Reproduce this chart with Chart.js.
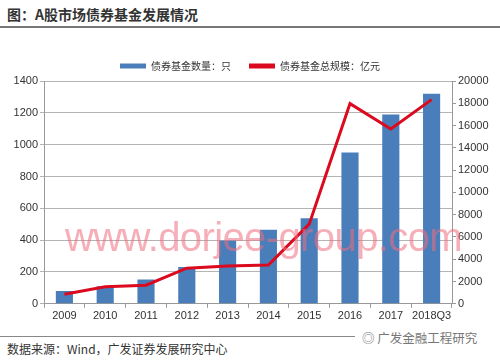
<!DOCTYPE html>
<html>
<head>
<meta charset="utf-8">
<script src="https://cdn.jsdelivr.net/npm/chart.js@4/dist/chart.umd.min.js"></script>
<style>
  body { margin:0; width:500px; height:363px; background:#fff; position:relative; overflow:hidden; font-family:"Noto Sans CJK SC", sans-serif; }
  #title { position:absolute; left:7px; top:4px; font-size:14px; font-weight:bold; color:#333; }
  #topline { position:absolute; left:0; top:26px; width:500px; height:2px; background:#777; }
  #box { position:absolute; left:0; top:35px; width:500px; height:290px; }
  #mark { position:absolute; left:65px; top:215px; font-family:"Liberation Sans", sans-serif; font-size:40px; color:rgba(238,110,125,0.55); letter-spacing:-0.6px; }
  #botline { position:absolute; left:0; top:336px; width:355px; height:1px; background:#888; }
  #source { position:absolute; left:7px; top:340px; font-size:12px; color:#333; }
  #logo { position:absolute; left:362px; top:328px; font-size:12.5px; color:#777; }
</style>
</head>
<body>
<div id="title">图：A股市场债券基金发展情况</div>
<div id="topline"></div>
<div id="box"><canvas id="bondchart"></canvas></div>
<div id="mark">www.dorjee-group.com</div>
<div id="botline"></div>
<div id="source">数据来源：Wind，广发证券发展研究中心</div>
<div id="logo">◎ 广发金融工程研究</div>
<script>
const years = ['2009', '2010', '2011', '2012', '2013', '2014', '2015', '2016', '2017', '2018Q3'];
const fundCount = [80, 110, 152, 232, 398, 466, 537, 950, 1190, 1320];
const fundSize = [860, 1520, 1670, 3200, 3400, 3480, 7150, 17970, 15700, 18330];
const countTicks = [0, 200, 400, 600, 800, 1000, 1200, 1400];
const sizeTicks = [0, 2000, 4000, 6000, 8000, 10000, 12000, 14000, 16000, 18000, 20000];

const tickFont = { family: 'Liberation Sans', size: 11 };
const ctx = document.getElementById('bondchart');

new Chart(ctx, {
    type: 'bar',
    data: {
        labels: years,
        datasets: [
            {
                label: '债券基金数量：只',
                data: fundCount,
                backgroundColor: '#4a7ebb',
                barPercentage: 0.42,
                categoryPercentage: 1,
                yAxisID: 'y',
                order: 1
            },
            {
                type: 'line',
                label: '债券基金总规模：亿元',
                data: fundSize,
                borderColor: '#db0a1e',
                backgroundColor: '#db0a1e',
                borderWidth: 3,
                pointRadius: 0,
                tension: 0,
                yAxisID: 'y1',
                order: 0
            }
        ]
    },
    options: {
        responsive: true,
        maintainAspectRatio: false,
        animation: false,
        layout: { padding: { top: 8, left: 0, right: 0, bottom: 0 } },
        plugins: {
            tooltip: { enabled: false },
            legend: {
                position: 'top',
                labels: {
                    boxWidth: 26,
                    boxHeight: 5,
                    padding: 18,
                    color: '#333',
                    font: { family: 'Noto Sans CJK SC', size: 10 },
                    generateLabels(chart) {
                        const items = Chart.defaults.plugins.legend.labels.generateLabels(chart);
                        items.forEach(it => { it.lineWidth = 0; });
                        return items.sort((a, b) => a.datasetIndex - b.datasetIndex);
                    }
                }
            }
        },
        scales: {
            x: {
                offset: true,
                grid: { display: true, drawOnChartArea: false, offset: true, tickLength: 4, color: '#999' },
                border: { color: '#999' },
                ticks: { font: tickFont, color: '#333', padding: 2, maxRotation: 0, autoSkip: false }
            },
            y: {
                position: 'left',
                min: 0, max: 1400,
                afterBuildTicks(axis) { axis.ticks = countTicks.map(v => ({ value: v })); },
                afterFit(axis) { axis.width = 44; },
                grid: { color: '#b4b4b4', tickLength: 4 },
                border: { color: '#999' },
                ticks: { font: tickFont, color: '#333', padding: 2, callback: v => String(v) }
            },
            y1: {
                position: 'right',
                min: 0, max: 20000,
                afterBuildTicks(axis) { axis.ticks = sizeTicks.map(v => ({ value: v })); },
                afterFit(axis) { axis.width = 48; },
                grid: { drawOnChartArea: false, tickLength: 4, color: '#999' },
                border: { color: '#999' },
                ticks: { font: tickFont, color: '#333', padding: 2, callback: v => String(v) }
            }
        }
    }
});
</script>
</body>
</html>
